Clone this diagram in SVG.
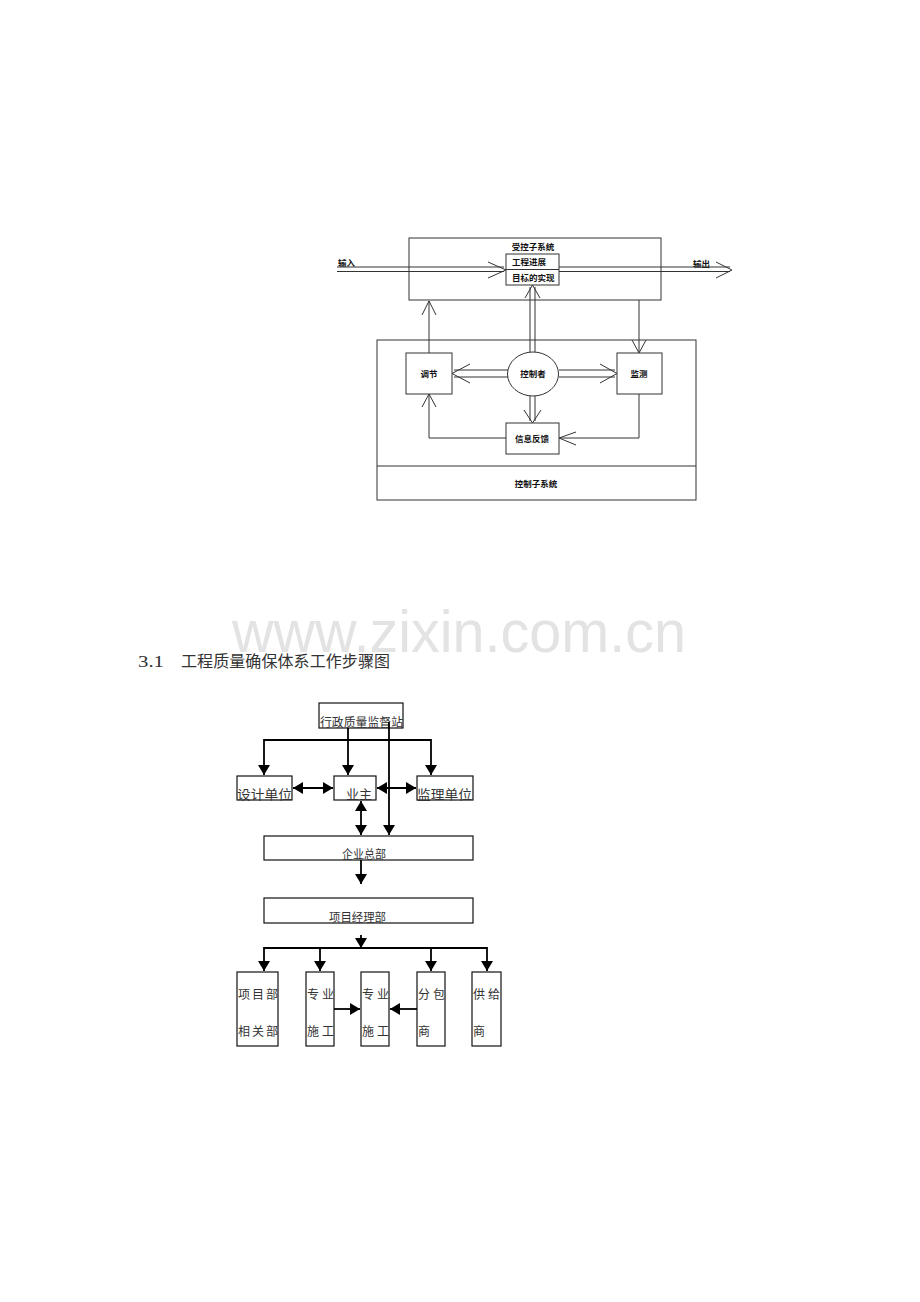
<svg xmlns="http://www.w3.org/2000/svg" width="920" height="1302" viewBox="0 0 920 1302">
<style>
.bx{fill:#fff;stroke:#333;stroke-width:1}
.ln{fill:none;stroke:#333;stroke-width:1}
.ch{fill:none;stroke:#333;stroke-width:1}
.t1{font-family:"Liberation Sans","Noto Sans CJK SC",sans-serif;font-size:8.5px;font-weight:bold;fill:#111}
.b2{fill:#fff;stroke:#111;stroke-width:1.2}
.l2{fill:none;stroke:#000;stroke-width:1.8}
.t2{font-family:"Liberation Serif","Noto Sans CJK SC",serif;font-size:12px;fill:#333}
.t3{font-family:"Liberation Serif","Noto Sans CJK SC",serif;font-size:13px;fill:#333}
.wm{font-family:"Liberation Sans","Noto Sans",sans-serif;font-size:60px;fill:#e3e3e3}
</style>
<defs>
<marker id="ah" markerUnits="userSpaceOnUse" markerWidth="10" markerHeight="12" refX="10" refY="6" orient="auto-start-reverse">
<path d="M0,0 L10,6 L0,12 z" fill="#000"/>
</marker>
</defs>
<rect width="920" height="1302" fill="#fff"/>

<!-- watermark -->
<text class="wm" x="232" y="652" textLength="454" lengthAdjust="spacingAndGlyphs">www.zixin.com.cn</text>

<!-- ===== Top diagram ===== -->
<g id="controlled-subsystem">
<rect class="bx" x="409" y="238" width="252" height="62"/>
<text class="t1" x="533" y="249.5" text-anchor="middle">受控子系统</text>
</g>
<g id="progress">
<rect class="bx" x="506" y="254" width="53" height="31"/>
<line class="ln" x1="506" y1="269.5" x2="559" y2="269.5"/>
<text class="t1" x="512" y="265">工程进展</text>
<text class="t1" x="512" y="281">目标的实现</text>
</g>
<g id="control-subsystem">
<rect class="bx" x="377" y="340" width="319" height="160"/>
<line class="ln" x1="377" y1="466" x2="696" y2="466"/>
<text class="t1" x="536" y="487" text-anchor="middle">控制子系统</text>
</g>
<g id="adjust">
<rect class="bx" x="406" y="353" width="46" height="41"/>
<text class="t1" x="429" y="377" text-anchor="middle">调节</text>
</g>
<g id="controller">
<ellipse class="bx" cx="533" cy="374" rx="25.5" ry="22"/>
<text class="t1" x="533" y="377" text-anchor="middle">控制者</text>
</g>
<g id="monitor">
<rect class="bx" x="617" y="353" width="45" height="41"/>
<text class="t1" x="639" y="377" text-anchor="middle">监测</text>
</g>
<g id="feedback">
<rect class="bx" x="506" y="423" width="53" height="31"/>
<text class="t1" x="532" y="442" text-anchor="middle">信息反馈</text>
</g>
<g id="io-labels">
<text class="t1" x="338" y="266">输入</text>
<text class="t1" x="693" y="267">输出</text>
</g>

<g id="top-connectors">
<line class="ln" x1="337" y1="267" x2="504" y2="267" stroke="#888"/>
<line class="ln" x1="337" y1="271.5" x2="504" y2="271.5"/>
<polyline class="ch" points="488,262 506,270 488,278"/>
<line class="ln" x1="559" y1="267" x2="730" y2="267" stroke="#888"/>
<line class="ln" x1="559" y1="271.5" x2="730" y2="271.5"/>
<polyline class="ch" points="716,262 732,270 716,278"/>
<line class="ln" x1="429" y1="353" x2="429" y2="301"/>
<polyline class="ch" points="422,315 429,301 436,315"/>
<line class="ln" x1="639" y1="300" x2="639" y2="352"/>
<polyline class="ch" points="632,340 639,353 646,340"/>
<line class="ln" x1="530" y1="352" x2="530" y2="287"/>
<line class="ln" x1="535" y1="352" x2="535" y2="287"/>
<polyline class="ch" points="525,298 532.5,285 540,298"/>
<line class="ln" x1="530" y1="396" x2="530" y2="421"/>
<line class="ln" x1="535" y1="396" x2="535" y2="421"/>
<polyline class="ch" points="524,410 532.5,423 541,410"/>
<line class="ln" x1="508" y1="370" x2="454" y2="370"/>
<line class="ln" x1="508" y1="377" x2="454" y2="377"/>
<polyline class="ch" points="470,364 452,373.5 470,383"/>
<line class="ln" x1="559" y1="370" x2="615" y2="370"/>
<line class="ln" x1="559" y1="377" x2="615" y2="377"/>
<polyline class="ch" points="600,364 617,373.5 600,383"/>
<polyline class="ln" points="639,394 639,438 560,438"/>
<polyline class="ch" points="576,432 559,438 576,445"/>
<polyline class="ln" points="506,438 429,438 429,395"/>
<polyline class="ch" points="422,407 429,394 436,407"/>
</g>

<!-- ===== Title ===== -->
<text x="138" y="667" style="font-family:'Liberation Serif','Noto Sans CJK SC',serif;font-size:16px;fill:#333"><tspan textLength="26" lengthAdjust="spacingAndGlyphs">3.1</tspan><tspan x="181" textLength="209" lengthAdjust="spacing">工程质量确保体系工作步骤图</tspan></text>

<!-- ===== Bottom flowchart ===== -->
<g id="supervision-station">
<rect class="b2" x="319" y="703" width="84" height="25"/>
<text class="t2" x="320" y="727" textLength="83" lengthAdjust="spacingAndGlyphs">行政质量监督站</text>
</g>
<g id="design-unit">
<rect class="b2" x="237" y="776" width="55" height="24"/>
<text class="t3" x="237" y="799" textLength="55" lengthAdjust="spacingAndGlyphs">设计单位</text>
</g>
<g id="owner">
<rect class="b2" x="334" y="776" width="42" height="24"/>
<text class="t3" x="346" y="799">业主</text>
</g>
<g id="supervisor-unit">
<rect class="b2" x="417" y="776" width="56" height="24"/>
<text class="t3" x="417" y="799" textLength="55" lengthAdjust="spacingAndGlyphs">监理单位</text>
</g>
<g id="enterprise-hq">
<rect class="b2" x="264" y="836" width="209" height="24"/>
<text class="t2" x="342" y="859" textLength="44" lengthAdjust="spacingAndGlyphs">企业总部</text>
</g>
<g id="project-dept">
<rect class="b2" x="264" y="898" width="209" height="25"/>
<text class="t2" x="329" y="922" textLength="57" lengthAdjust="spacingAndGlyphs">项目经理部</text>
</g>
<g id="project-related">
<rect class="b2" x="237" y="972" width="41" height="74"/>
<text class="t2" x="238" y="999">项</text><text class="t2" x="252" y="999">目</text><text class="t2" x="266" y="999">部</text>
<text class="t2" x="238" y="1036">相</text><text class="t2" x="252" y="1036">关</text><text class="t2" x="266" y="1036">部</text>
</g>
<g id="specialty-1">
<rect class="b2" x="306" y="972" width="28" height="74"/>
<text class="t2" x="307" y="999">专</text><text class="t2" x="322" y="999">业</text>
<text class="t2" x="307" y="1036">施</text><text class="t2" x="322" y="1036">工</text>
</g>
<g id="specialty-2">
<rect class="b2" x="361" y="972" width="28" height="74"/>
<text class="t2" x="362" y="999">专</text><text class="t2" x="377" y="999">业</text>
<text class="t2" x="362" y="1036">施</text><text class="t2" x="377" y="1036">工</text>
</g>
<g id="subcontractor">
<rect class="b2" x="417" y="972" width="28" height="74"/>
<text class="t2" x="418" y="999">分</text><text class="t2" x="433" y="999">包</text>
<text class="t2" x="418" y="1036">商</text>
</g>
<g id="supplier">
<rect class="b2" x="472" y="972" width="29" height="74"/>
<text class="t2" x="473" y="999">供</text><text class="t2" x="488" y="999">给</text>
<text class="t2" x="473" y="1036">商</text>
</g>

<g id="bottom-connectors">
<line class="l2" x1="264" y1="740" x2="431" y2="740"/>
<line class="l2" x1="264" y1="739" x2="264" y2="775" marker-end="url(#ah)"/>
<line class="l2" x1="431" y1="739" x2="431" y2="775" marker-end="url(#ah)"/>
<line class="l2" x1="348" y1="728" x2="348" y2="775" marker-end="url(#ah)"/>
<line class="l2" x1="389" y1="722" x2="389" y2="835" marker-end="url(#ah)"/>
<line class="l2" x1="293" y1="788" x2="333" y2="788" marker-start="url(#ah)" marker-end="url(#ah)"/>
<line class="l2" x1="377" y1="788" x2="416" y2="788" marker-start="url(#ah)" marker-end="url(#ah)"/>
<line class="l2" x1="361" y1="801" x2="361" y2="835" marker-start="url(#ah)" marker-end="url(#ah)"/>
<line class="l2" x1="361" y1="860" x2="361" y2="884" marker-end="url(#ah)"/>
<line class="l2" x1="361" y1="935" x2="361" y2="948" marker-end="url(#ah)"/>
<line class="l2" x1="264" y1="948" x2="487" y2="948"/>
<line class="l2" x1="264" y1="947" x2="264" y2="971" marker-end="url(#ah)"/>
<line class="l2" x1="320" y1="947" x2="320" y2="971" marker-end="url(#ah)"/>
<line class="l2" x1="431" y1="947" x2="431" y2="971" marker-end="url(#ah)"/>
<line class="l2" x1="487" y1="947" x2="487" y2="971" marker-end="url(#ah)"/>
<line class="l2" x1="334" y1="1009" x2="360" y2="1009" marker-end="url(#ah)"/>
<line class="l2" x1="417" y1="1009" x2="390" y2="1009" marker-end="url(#ah)"/>
</g>
</svg>
